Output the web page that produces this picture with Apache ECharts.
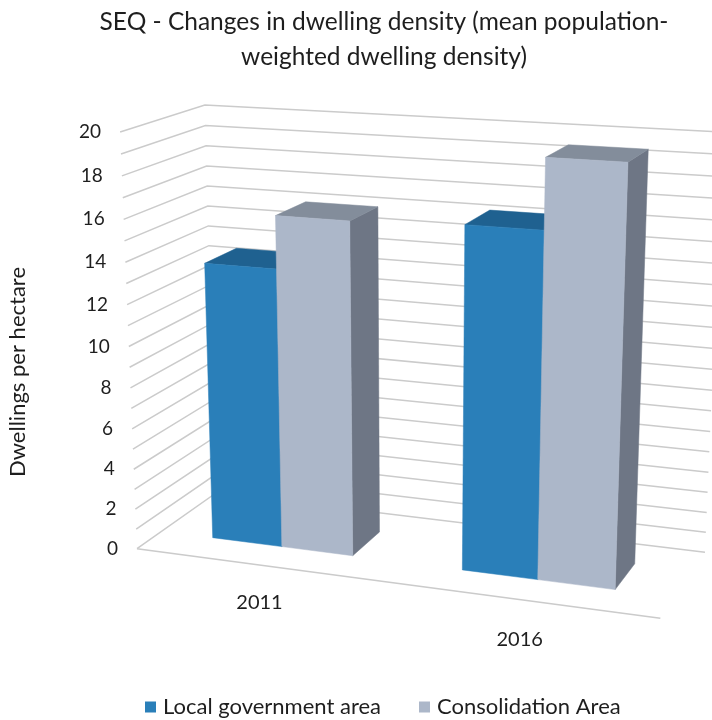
<!DOCTYPE html>
<html>
<head>
<meta charset="utf-8">
<script src="https://cdn.jsdelivr.net/npm/echarts@6/dist/echarts.min.js"></script>
<style>
  html, body { margin: 0; padding: 0; background: #ffffff; }
  #main { width: 712px; height: 720px; }
</style>
</head>
<body>
<div id="main"></div>
<script>
// ---- data ----
const categories = ['2011', '2016'];
const seriesNames = ['Local government area', 'Consolidation Area'];
const localGovernmentArea = [13.6, 16.3];
const consolidationArea = [16.1, 19.5];
const gridValues = [0, 1, 2, 3, 4, 5, 6, 7, 8, 9, 10, 11, 12, 13, 14, 15, 16, 17, 18, 19, 20];
const tickValues = [0, 2, 4, 6, 8, 10, 12, 14, 16, 18, 20];
const tickLabels = ['0', '2', '4', '6', '8', '10', '12', '14', '16', '18', '20'];

// ---- style ----
const FONT = 'Lato, "Noto Sans", sans-serif';
const TEXT = '#1e1e1e';
const GRID_LINE = '#cbcbcb';
const BAR_COLORS = [
  { front: '#2a7fb9', top: '#1f6190', side: '#1c5a86' },
  { front: '#acb7c9', top: '#838d9b', side: '#6e7685' }
];
const GAP_WIDTH = 1.5;          // gap between clusters, relative to bar width
const DEPTH_BACK = 0.3;         // bar depth span inside the box (0 = back wall, 1 = front)
const DEPTH_FRONT = 0.7;

// Three-point perspective view of the box: image of the back-left floor corner,
// of the three unit corners along width / depth / height, and the vanishing points.
const VIEW = {
  origin: [216, 493],
  xEnd: [705, 552],
  yEnd: [137, 550],
  zEnd: [207, 105],
  vpX: [-5425, -190],
  vpY: [1227, -220],
  vpZ: [413, 7357]
};

function axisScale(end, vp) {
  const o = VIEW.origin;
  const c = Math.abs(end[0] - o[0]) > Math.abs(end[1] - o[1]) ? 0 : 1;
  return (end[c] - o[c]) / (vp[c] - end[c]);
}
const KX = axisScale(VIEW.xEnd, VIEW.vpX);
const KY = axisScale(VIEW.yEnd, VIEW.vpY);
const KZ = axisScale(VIEW.zEnd, VIEW.vpZ);

// (width, depth, height) in box units -> screen pixels
function project(X, Y, Z) {
  const o = VIEW.origin;
  const hx = o[0] + X * KX * VIEW.vpX[0] + Y * KY * VIEW.vpY[0] + Z * KZ * VIEW.vpZ[0];
  const hy = o[1] + X * KX * VIEW.vpX[1] + Y * KY * VIEW.vpY[1] + Z * KZ * VIEW.vpZ[1];
  const w = 1 + X * KX + Y * KY + Z * KZ;
  return [hx / w, hy / w];
}

// cartesian pixel -> box units (width fraction, height fraction)
function toBox(pt, cs) {
  return [(pt[0] - cs.x) / cs.width, 1 - (pt[1] - cs.y) / cs.height];
}

function line(points) {
  return {
    type: 'polyline',
    shape: { points: points },
    style: { stroke: GRID_LINE, lineWidth: 1.5, fill: 'none' }
  };
}

// Wall gridlines: left wall (front -> back) then back wall (left -> right)
function renderGridLine(params, api) {
  const z = toBox(api.coord([0, api.value(1)]), params.coordSys)[1];
  const children = [line([project(0, 1, z), project(0, 0, z), project(1, 0, z)])];
  if (api.value(1) === 0) {
    children.push(line([project(0, 1, 0), project(1, 1, 0)]));
  }
  return { type: 'group', children: children };
}

function renderTickLabel(params, api) {
  const z = toBox(api.coord([0, api.value(1)]), params.coordSys)[1];
  const p = project(0, 1, z);
  return {
    type: 'text',
    x: p[0] - 19,
    y: p[1],
    style: {
      text: tickLabels[params.dataIndex],
      fill: TEXT, fontFamily: FONT, fontSize: 19,
      align: 'right', verticalAlign: 'middle'
    }
  };
}

function renderCategoryLabel(params, api) {
  const x = toBox(api.coord([api.value(0), 0]), params.coordSys)[0];
  const p = project(x, 1.02, -0.092);
  return {
    type: 'text',
    x: p[0] + 1,
    y: p[1],
    style: {
      text: categories[params.dataIndex],
      fill: TEXT, fontFamily: FONT, fontSize: 20,
      align: 'center', verticalAlign: 'middle'
    }
  };
}

function makeBarRenderer(slot) {
  const colors = BAR_COLORS[slot];
  return function (params, api) {
    const cs = params.coordSys;
    const cx = toBox(api.coord([api.value(0), 0]), cs)[0];
    const z = toBox(api.coord([api.value(0), api.value(1)]), cs)[1];
    const band = api.size([1, 0])[0] / cs.width;
    const barW = band / (2 + GAP_WIDTH);
    const x0 = cx - barW + slot * barW;
    const x1 = x0 + barW;
    const y0 = DEPTH_BACK, y1 = DEPTH_FRONT;
    const face = (pts, fill) => ({
      type: 'polygon',
      shape: { points: pts.map(p => project(p[0], p[1], p[2])) },
      style: { fill: fill, stroke: fill, lineWidth: 0.5 }
    });
    return {
      type: 'group',
      children: [
        face([[x1, y1, 0], [x1, y0, 0], [x1, y0, z], [x1, y1, z]], colors.side),
        face([[x0, y1, z], [x1, y1, z], [x1, y0, z], [x0, y0, z]], colors.top),
        face([[x0, y1, 0], [x1, y1, 0], [x1, y1, z], [x0, y1, z]], colors.front)
      ]
    };
  };
}

const chart = echarts.init(document.getElementById('main'), null, { renderer: 'canvas' });

chart.setOption({
  animation: false,
  backgroundColor: '#ffffff',
  title: {
    text: 'SEQ - Changes in dwelling density (mean population-\nweighted dwelling density)',
    left: 379,
    top: 0,
    textAlign: 'center',
    textStyle: {
      fontFamily: FONT, fontSize: 24.5, fontWeight: 'normal',
      color: TEXT, lineHeight: 35
    }
  },
  legend: {
    data: seriesNames,
    left: 140,
    top: 691,
    icon: 'rect',
    itemWidth: 11,
    itemHeight: 11,
    itemGap: 38,
    textStyle: { fontFamily: FONT, fontSize: 22, color: TEXT, padding: [0, 0, 0, 2] }
  },
  graphic: [{
    type: 'text',
    x: 18,
    y: 372,
    rotation: Math.PI / 2,
    style: {
      text: 'Dwellings per hectare',
      fill: TEXT, fontFamily: FONT, fontSize: 22,
      align: 'center', verticalAlign: 'middle'
    }
  }],
  grid: { show: false, left: 100, top: 100, width: 500, height: 500 },
  xAxis: {
    type: 'category',
    data: categories,
    show: false
  },
  yAxis: {
    type: 'value',
    min: 0,
    max: 20,
    interval: 1,
    show: false
  },
  series: [
    {
      name: 'gridlines',
      type: 'custom',
      silent: true,
      clip: false,
      z: 1,
      renderItem: renderGridLine,
      data: gridValues.map(v => [0, v])
    },
    {
      name: seriesNames[0],
      type: 'custom',
      silent: true,
      clip: false,
      z: 2,
      itemStyle: { color: BAR_COLORS[0].front },
      renderItem: makeBarRenderer(0),
      data: localGovernmentArea.map((v, i) => [i, v])
    },
    {
      name: seriesNames[1],
      type: 'custom',
      silent: true,
      clip: false,
      z: 2,
      itemStyle: { color: BAR_COLORS[1].front },
      renderItem: makeBarRenderer(1),
      data: consolidationArea.map((v, i) => [i, v])
    },
    {
      name: 'tickLabels',
      type: 'custom',
      silent: true,
      clip: false,
      z: 3,
      renderItem: renderTickLabel,
      data: tickValues.map(v => [0, v])
    },
    {
      name: 'categoryLabels',
      type: 'custom',
      silent: true,
      clip: false,
      z: 3,
      renderItem: renderCategoryLabel,
      data: categories.map((c, i) => [i, 0])
    }
  ]
});
</script>
</body>
</html>
